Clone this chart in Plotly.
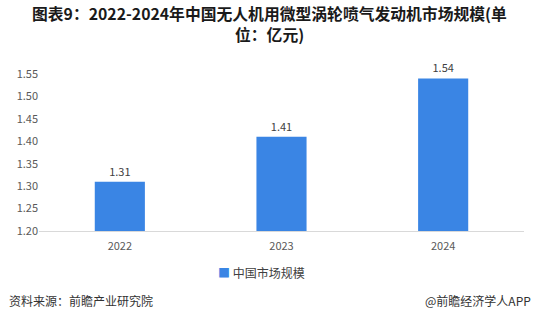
import plotly.graph_objects as go

years = ["2022", "2023", "2024"]
values = [1.31, 1.41, 1.54]
series_name = "中国市场规模"
y_ticks = [1.20, 1.25, 1.30, 1.35, 1.40, 1.45, 1.50, 1.55]
title_lines = ["图表9：2022-2024年中国无人机用微型涡轮喷气发动机市场规模(单", "位：亿元)"]

font_family = "Microsoft YaHei, Noto Sans CJK SC, sans-serif"
bar_color = "#3a85e4"

fig = go.Figure()
fig.add_trace(go.Bar(
    x=years, y=values, name=series_name,
    marker=dict(color=bar_color, line=dict(width=0)),
    text=[f"{v:.2f}" for v in values], textposition="outside",
    textfont=dict(size=11, color="#404040"),
    cliponaxis=False, showlegend=False,
))

fig.update_layout(
    width=538, height=333,
    margin=dict(l=39, r=14, t=74, b=102),
    paper_bgcolor="white", plot_bgcolor="white",
    font=dict(family=font_family, color="#595959"),
    bargap=0.69,
    xaxis=dict(showline=True, linecolor="#d9d9d9", linewidth=1, ticks="",
               tickfont=dict(size=11, color="#595959"), showgrid=False,
               ticklabelstandoff=5),
    yaxis=dict(range=[1.2, 1.55], tickvals=y_ticks, tickformat=".2f",
               showgrid=False, zeroline=False, showline=False,
               tickfont=dict(size=11, color="#595959")),
)

# title, two lines
for line, ypx in zip(title_lines, [13.5, 34.5]):
    fig.add_annotation(
        text=f"<b>{line}</b>",
        xref="paper", yref="paper", x=0.476, y=(231 - ypx) / 157,
        xanchor="center", yanchor="middle",
        showarrow=False, font=dict(size=15.8, color="#1a1a1a", family=font_family),
    )

# legend entry
fig.add_annotation(
    text=f"<span style='color:{bar_color}'>■</span> {series_name}",
    xref="paper", yref="paper", x=0.458, xanchor="center", y=-0.267, yanchor="middle",
    showarrow=False, font=dict(size=12, color="#404040"),
)

fig.add_annotation(text="资料来源：前瞻产业研究院", xref="paper", yref="paper",
                   x=-0.066, xanchor="left", y=-0.44, yanchor="middle", showarrow=False,
                   font=dict(size=12, color="#333333"))
fig.add_annotation(text="@前瞻经济学人APP", xref="paper", yref="paper",
                   x=1.019, xanchor="right", y=-0.44, yanchor="middle", showarrow=False,
                   font=dict(size=12, color="#333333"))

fig.write_html("out.html")
